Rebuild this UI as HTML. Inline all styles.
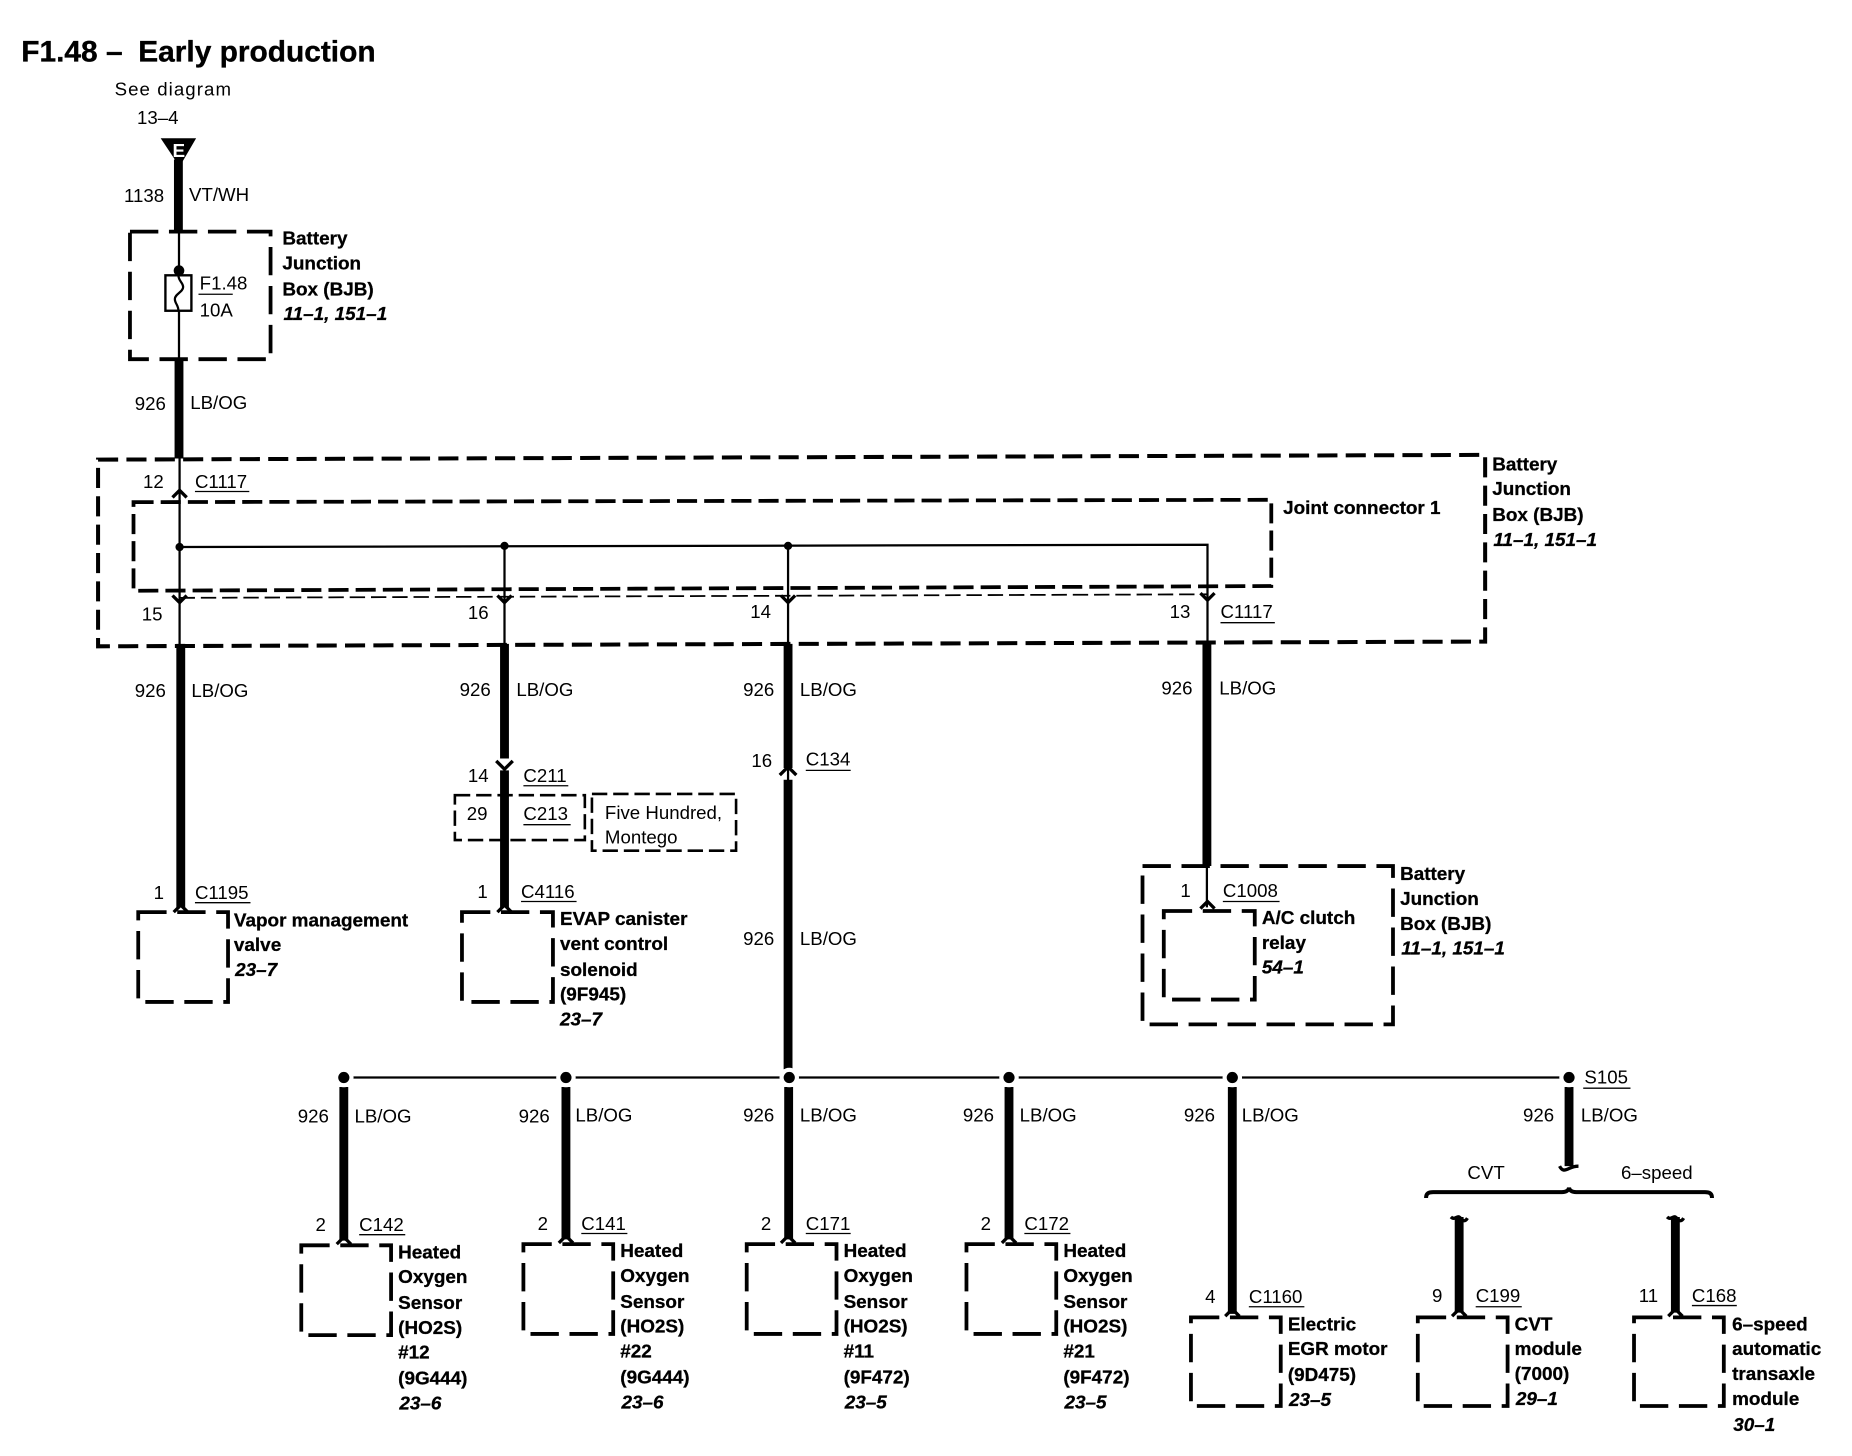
<!DOCTYPE html>
<html><head><meta charset="utf-8"><style>
html,body{margin:0;padding:0;background:#fff}
svg{display:block}
text{font-family:"Liberation Sans",sans-serif;font-size:15.8px;fill:#000}
.b{font-weight:bold;font-size:16px;stroke:#000;stroke-width:.25px}
.i{font-weight:bold;font-style:italic;font-size:16px;stroke:#000;stroke-width:.25px}
.w{stroke:#000;stroke-width:7.5;fill:none}
.t{stroke:#000;stroke-width:1.9;fill:none}
.o{stroke:#000;stroke-width:3.4;fill:none;stroke-dasharray:17 7}
.d{stroke:#000;stroke-width:3.2;fill:none;stroke-dasharray:24 9}
.s{stroke:#000;stroke-width:2.2;fill:none;stroke-dasharray:13 5}
.c{stroke:#000;stroke-width:2.8;fill:none}
.u{stroke:#000;stroke-width:1.1}
</style></head><body>
<svg width="1852" height="1456" viewBox="0 0 1567.5 1232.3" xmlns="http://www.w3.org/2000/svg">
<text x="18" y="52" style="font-size:25.3px;font-weight:bold;stroke:#000;stroke-width:.3px">F1.48 –</text>
<text x="117" y="52" style="font-size:25.3px;font-weight:bold;stroke:#000;stroke-width:.3px">Early production</text>
<text x="97" y="81" style="letter-spacing:.9px">See diagram</text>
<text x="116" y="105">13–4</text>
<polygon points="136,117 166,117 152,141"/>
<text x="146" y="133" style="font-size:16px;font-weight:bold;fill:#fff">E</text>
<path class="w" d="M151 135V196"/>
<text x="105" y="171">1138</text><text x="160" y="170">VT/WH</text>
<rect class="d" x="110" y="196" width="119" height="108"/>
<path class="t" d="M151.500 196V233M151.500 263V304"/>
<circle cx="151.500" cy="229" r="4.500"/>
<rect x="140" y="233" width="22" height="30" fill="#fff" stroke="#000" stroke-width="2"/>
<path class="t" d="M151 233c0 5 4 6 4 10s-7 6-7 10c0 4 3 5 3 10" stroke-width="2.4"/>
<text x="169" y="245">F1.48</text><path class="u" d="M168 249H197"/><text x="169" y="268">10A</text>
<text class="b" x="239" y="207">Battery</text><text class="b" x="239" y="228">Junction</text><text class="b" x="239" y="250">Box (BJB)</text><text class="i" x="240" y="271">11–1, 151–1</text>
<path class="w" d="M151.500 304V388"/>
<text x="114" y="347">926</text><text x="161" y="346">LB/OG</text>

<polygon class="o" points="83,389 1257,385 1257,543 83,547"/>
<polygon class="d" style="stroke-dasharray:17 6" points="113,425 1076,423 1076,496 113,500"/>
<path class="s" style="stroke-width:1.5" d="M152 506L1022 503"/>
<path class="t" d="M152 388V546M427 463V546M667 462V546M152 463L1022 461V546"/>
<circle cx="152" cy="463" r="3.500"/><circle cx="427" cy="462" r="3.500"/><circle cx="667" cy="462" r="3.500"/>
<path class="c" d="M146 421L152 415L158 421M146 504L152 510L158 504M421 504L427 510L433 504M661 504L667 510L673 504M1016 502L1022 508L1028 502"/>
<text x="121" y="413">12</text><text x="165" y="413">C1117</text><path class="u" d="M165 416H211"/>
<text x="1086" y="435" class="b">Joint connector 1</text>
<text class="b" x="1263" y="398">Battery</text><text class="b" x="1263" y="419">Junction</text><text class="b" x="1263" y="441">Box (BJB)</text><text class="i" x="1264" y="462">11–1, 151–1</text>
<text x="120" y="525">15</text><text x="396" y="524">16</text><text x="635" y="523">14</text><text x="990" y="523">13</text>
<text x="1033" y="523">C1117</text><path class="u" d="M1033 527H1079"/>

<path class="w" d="M153 545V768M427 545V642M427 652V768M667 545V650M667 660V905M1021.500 545V733"/>
<path class="t" d="M1021.500 733V768M667 648V662"/>
<path class="c" d="M147 772L153 766L159 772M421 772L427 766L433 772M420 644L427 651L434 644M660 656L667 649L674 656M1016 769L1022 763L1028 769"/>
<text x="114" y="590">926</text><text x="162" y="590">LB/OG</text>
<text x="389" y="589">926</text><text x="437" y="589">LB/OG</text>
<text x="629" y="589">926</text><text x="677" y="589">LB/OG</text>
<text x="983" y="588">926</text><text x="1032" y="588">LB/OG</text>
<text x="629" y="800">926</text><text x="677" y="800">LB/OG</text>
<text x="636" y="649">16</text><text x="682" y="648">C134</text><path class="u" d="M682 652H720"/>
<text x="396" y="662">14</text><text x="443" y="662">C211</text><path class="u" d="M443 665H481"/>
<text x="395" y="694">29</text><text x="443" y="694">C213</text><path class="u" d="M443 698H483"/>
<rect class="s" x="385" y="673" width="110" height="38"/>
<rect class="s" x="501" y="672" width="122" height="48"/>
<text x="512" y="693">Five Hundred,</text><text x="512" y="714">Montego</text>
<text x="130" y="761">1</text><text x="165" y="761">C1195</text><path class="u" d="M165 764H212"/>
<text x="404" y="760">1</text><text x="441" y="760">C4116</text><path class="u" d="M441 763H488"/>
<text x="999" y="759">1</text><text x="1035" y="759">C1008</text><path class="u" d="M1035 763H1083"/>

<rect class="d" x="117" y="772" width="76" height="76"/>
<text class="b" x="198" y="784">Vapor management</text><text class="b" x="198" y="805">valve</text><text class="i" x="199" y="826">23–7</text>
<rect class="d" x="391" y="772" width="77" height="76"/>
<text class="b" x="474" y="783">EVAP canister</text><text class="b" x="474" y="804">vent control</text><text class="b" x="474" y="826">solenoid</text><text class="b" x="474" y="847">(9F945)</text><text class="i" x="474" y="868">23–7</text>
<rect class="d" x="967" y="733" width="212" height="134"/>
<rect class="d" x="985" y="771" width="77" height="75"/>
<text class="b" x="1068" y="782">A/C clutch</text><text class="b" x="1068" y="803">relay</text><text class="i" x="1068" y="824">54–1</text>
<text class="b" x="1185" y="745">Battery</text><text class="b" x="1185" y="766">Junction</text><text class="b" x="1185" y="787">Box (BJB)</text><text class="i" x="1186" y="808">11–1, 151–1</text>

<path class="t" d="M291 912H1328"/>
<path class="w" d="M291 920V1050M479 920V1049M667.500 920V1049M854 920V1049M1043 920V1112M1328 920V987M1235 1030V1111M1418 1030V1111"/>
<g fill="#000" stroke="#fff" stroke-width="3.500">
<circle cx="291" cy="912" r="6.500"/><circle cx="479" cy="912" r="6.500"/><circle cx="668" cy="912" r="6.500"/><circle cx="854" cy="912" r="6.500"/><circle cx="1043" cy="912" r="6.500"/><circle cx="1328" cy="912" r="6.500"/>
</g>
<text x="1341" y="917">S105</text><path class="u" d="M1340 921H1380"/>
<path class="c" d="M285 1053L291 1047L297 1053M473 1052L479 1046L485 1052M661 1052L667 1046L673 1052M848 1052L854 1046L860 1052M1037 1114L1043 1108L1049 1114M1229 1114L1235 1108L1241 1114M1412 1114L1418 1108L1424 1114"/>
<path class="c" d="M1320 987c2 4 4 4 8 2s6-2 8-2M1228 1030c3 3 5-1 7 0s4 6 7 1M1411 1030c3 3 5-1 7 0s4 6 7 1"/>
<path stroke="#000" stroke-width="3.400" fill="none" d="M1207 1014c0-4 2-5 6-5H1322c4 0 6-2 6-4c0 2 2 4 6 4H1443c4 0 6 1 6 5"/>
<text x="1242" y="998">CVT</text><text x="1372" y="998">6–speed</text>
<text x="252" y="950">926</text><text x="300" y="950">LB/OG</text>
<text x="439" y="950">926</text><text x="487" y="949">LB/OG</text>
<text x="629" y="949">926</text><text x="677" y="949">LB/OG</text>
<text x="815" y="949">926</text><text x="863" y="949">LB/OG</text>
<text x="1002" y="949">926</text><text x="1051" y="949">LB/OG</text>
<text x="1289" y="949">926</text><text x="1338" y="949">LB/OG</text>

<text x="267" y="1042">2</text><text x="304" y="1042">C142</text><path class="u" d="M304 1045H343"/>
<text x="455" y="1041">2</text><text x="492" y="1041">C141</text><path class="u" d="M492 1044H531"/>
<text x="644" y="1041">2</text><text x="682" y="1041">C171</text><path class="u" d="M682 1044H720"/>
<text x="830" y="1041">2</text><text x="867" y="1041">C172</text><path class="u" d="M867 1044H906"/>
<text x="1020" y="1103">4</text><text x="1057" y="1103">C1160</text><path class="u" d="M1057 1106H1104"/>
<text x="1212" y="1102">9</text><text x="1249" y="1102">C199</text><path class="u" d="M1249 1106H1288"/>
<text x="1387" y="1102">11</text><text x="1432" y="1102">C168</text><path class="u" d="M1432 1105H1470"/>

<rect class="d" x="255" y="1054" width="76" height="76"/>
<rect class="d" x="443" y="1053" width="76" height="76"/>
<rect class="d" x="632" y="1053" width="76" height="76"/>
<rect class="d" x="818" y="1053" width="76" height="76"/>
<rect class="d" x="1008" y="1115" width="76" height="75"/>
<rect class="d" x="1200" y="1115" width="76" height="75"/>
<rect class="d" x="1383" y="1115" width="76" height="75"/>

<text class="b" x="337" y="1065">Heated</text><text class="b" x="337" y="1086">Oxygen</text><text class="b" x="337" y="1108">Sensor</text><text class="b" x="337" y="1129">(HO2S)</text><text class="b" x="337" y="1150">#12</text><text class="b" x="337" y="1172">(9G444)</text><text class="i" x="338" y="1193">23–6</text>
<text class="b" x="525" y="1064">Heated</text><text class="b" x="525" y="1085">Oxygen</text><text class="b" x="525" y="1107">Sensor</text><text class="b" x="525" y="1128">(HO2S)</text><text class="b" x="525" y="1149">#22</text><text class="b" x="525" y="1171">(9G444)</text><text class="i" x="526" y="1192">23–6</text>
<text class="b" x="714" y="1064">Heated</text><text class="b" x="714" y="1085">Oxygen</text><text class="b" x="714" y="1107">Sensor</text><text class="b" x="714" y="1128">(HO2S)</text><text class="b" x="714" y="1149">#11</text><text class="b" x="714" y="1171">(9F472)</text><text class="i" x="715" y="1192">23–5</text>
<text class="b" x="900" y="1064">Heated</text><text class="b" x="900" y="1085">Oxygen</text><text class="b" x="900" y="1107">Sensor</text><text class="b" x="900" y="1128">(HO2S)</text><text class="b" x="900" y="1149">#21</text><text class="b" x="900" y="1171">(9F472)</text><text class="i" x="901" y="1192">23–5</text>
<text class="b" x="1090" y="1126">Electric</text><text class="b" x="1090" y="1147">EGR motor</text><text class="b" x="1090" y="1169">(9D475)</text><text class="i" x="1091" y="1190">23–5</text>
<text class="b" x="1282" y="1126">CVT</text><text class="b" x="1282" y="1147">module</text><text class="b" x="1282" y="1168">(7000)</text><text class="i" x="1283" y="1189">29–1</text>
<text class="b" x="1466" y="1126">6–speed</text><text class="b" x="1466" y="1147">automatic</text><text class="b" x="1466" y="1168">transaxle</text><text class="b" x="1466" y="1189">module</text><text class="i" x="1467" y="1211">30–1</text>
</svg>
</body></html>
